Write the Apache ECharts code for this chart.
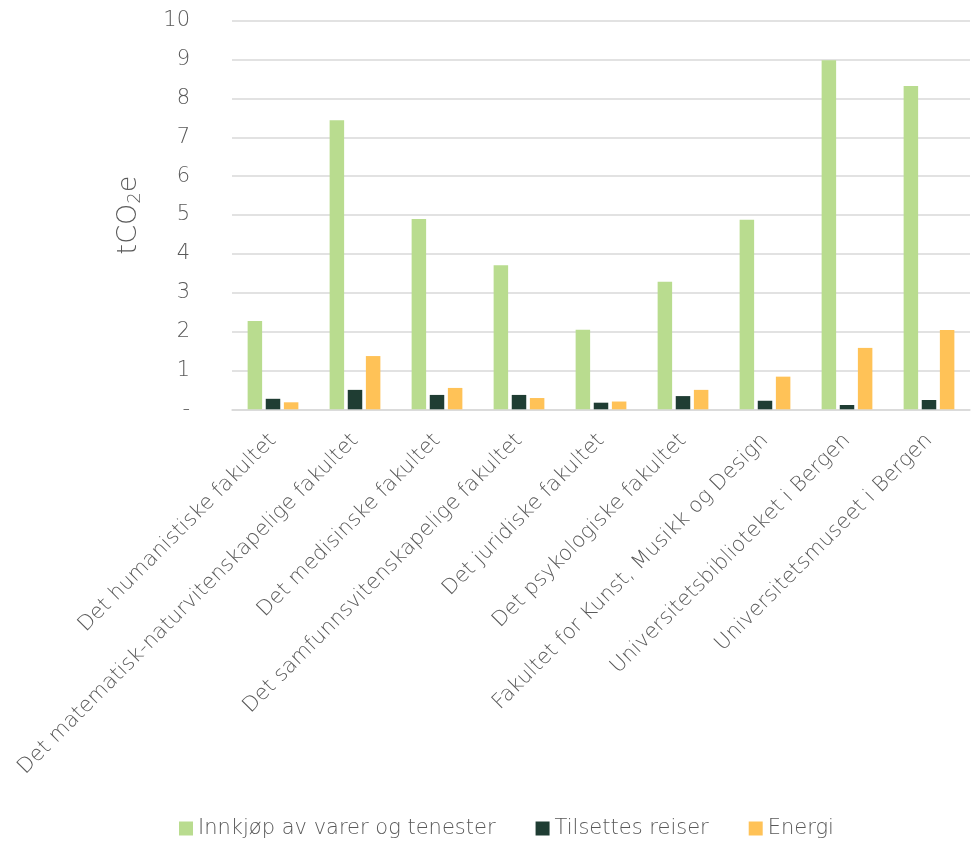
<!DOCTYPE html>
<html><head><meta charset="utf-8">
<script src="https://cdn.jsdelivr.net/npm/echarts@6/dist/echarts.min.js"></script>
<style>html,body{margin:0;padding:0;background:#fff}#c{width:971px;height:841px}</style>
</head><body><div id="c"></div>
<script>
var categories = ["Det humanistiske fakultet","Det matematisk-naturvitenskapelige fakultet","Det medisinske fakultet","Det samfunnsvitenskapelige fakultet","Det juridiske fakultet","Det psykologiske fakultet","Fakultet for Kunst, Musikk og Design","Universitetsbiblioteket i Bergen","Universitetsmuseet i Bergen"];
var innkjop = [2.27, 7.44, 4.90, 3.71, 2.05, 3.28, 4.88, 8.98, 8.32];
var reiser = [0.27, 0.50, 0.37, 0.37, 0.17, 0.34, 0.22, 0.11, 0.24];
var energi = [0.18, 1.37, 0.55, 0.29, 0.20, 0.50, 0.84, 1.58, 2.04];
var seriesNames = ["Innkjøp av varer og tenester","Tilsettes reiser","Energi"];
var colors = ["#b9dc8f","#1f3d33","#ffc257"];
var FONT = "DejaVu Sans";
var TXT = "#595959";
var chart = echarts.init(document.getElementById('c'));
chart.setOption({
  animation:false,
  textStyle:{fontFamily:FONT},
  color:colors,
  grid:{left:232,right:1,top:20.7,bottom:431.7,containLabel:false},
  legend:{top:813,left:174,itemWidth:14,itemHeight:14,itemGap:40,icon:'rect',
    textStyle:{fontSize:21,color:TXT,fontFamily:FONT,fontWeight:200},data:seriesNames},
  xAxis:{type:'category',data:categories,
    axisLine:{lineStyle:{color:'#d9d9d9',width:1.5}},axisTick:{show:false},
    axisLabel:{rotate:45,fontSize:21,color:TXT,margin:28,interval:0,fontFamily:FONT,fontWeight:200}},
  yAxis:{type:'value',min:0,max:10,interval:1,
    name:'{a|tCO}{b|2}{a|e}',nameLocation:'middle',nameRotate:90,nameGap:88,
    nameTextStyle:{rich:{a:{fontSize:27,color:TXT,fontFamily:FONT,fontWeight:200},b:{fontSize:18,color:TXT,fontFamily:FONT,fontWeight:200,padding:[12,0,0,0]}}},
    axisLine:{show:false},axisTick:{show:false},
    splitLine:{lineStyle:{color:'#d9d9d9',width:1.5}},
    axisLabel:{fontSize:21,color:TXT,margin:42,fontFamily:FONT,fontWeight:200,
      formatter:function(v){return v===0?'-':String(v);}}},
  series:[
    {name:seriesNames[0],type:'bar',data:innkjop,barWidth:14.5,barGap:'25%'},
    {name:seriesNames[1],type:'bar',data:reiser,barWidth:14.5,barGap:'25%'},
    {name:seriesNames[2],type:'bar',data:energi,barWidth:14.5,barGap:'25%'}
  ]
});
</script></body></html>
